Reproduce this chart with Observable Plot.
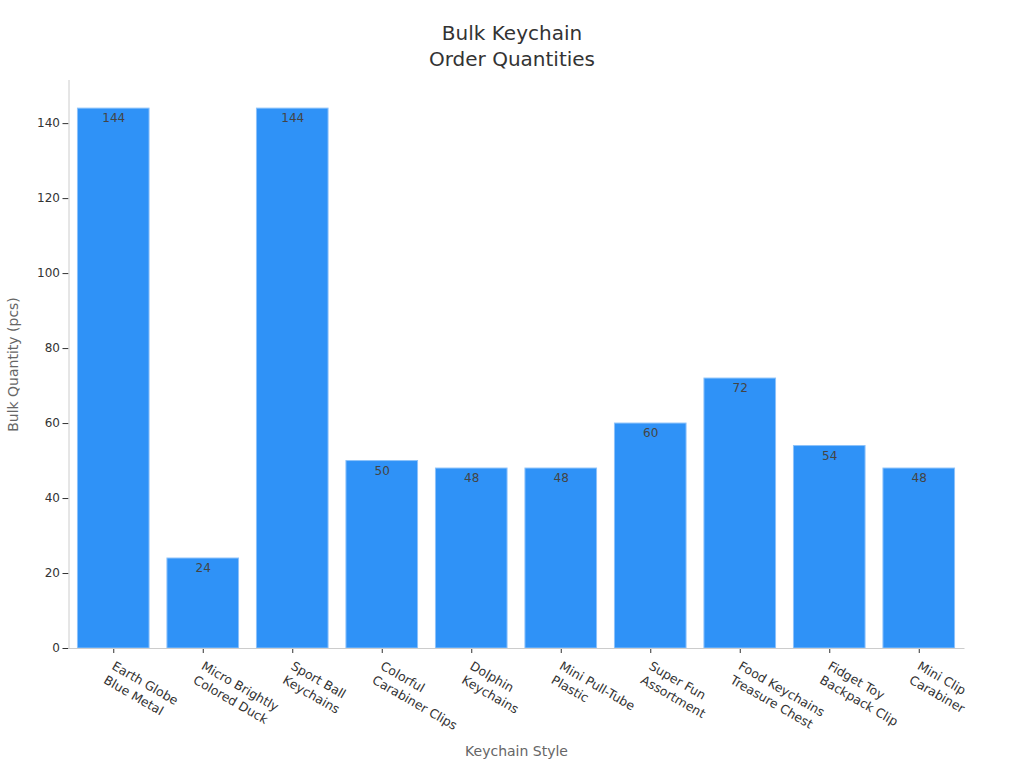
<!DOCTYPE html>
<html>
<head>
<meta charset="utf-8">
<script src="https://cdn.jsdelivr.net/npm/d3@7"></script>
<script src="https://cdn.jsdelivr.net/npm/@observablehq/plot@0.6"></script>
<style>
  html, body { margin: 0; padding: 0; background: #fff; }
  body { width: 1024px; height: 768px; overflow: hidden; font-family: "DejaVu Sans", sans-serif; }
  #title { height: 70px; box-sizing: border-box; padding-top: 20px; text-align: center; font-size: 20px; line-height: 26px; color: #333; }
</style>
</head>
<body>
<div id="title">Bulk Keychain<br>Order Quantities</div>
<div id="chart"></div>
<script>
const categories = [
  "Earth Globe\nBlue Metal",
  "Micro Brightly\nColored Duck",
  "Sport Ball\nKeychains",
  "Colorful\nCarabiner Clips",
  "Dolphin\nKeychains",
  "Mini Pull-Tube\nPlastic",
  "Super Fun\nAssortment",
  "Food Keychains\nTreasure Chest",
  "Fidget Toy\nBackpack Clip",
  "Mini Clip\nCarabiner"
];
const quantities = [144, 24, 144, 50, 48, 48, 60, 72, 54, 48];
const yTicks = [0, 20, 40, 60, 80, 100, 120, 140];

const data = categories.map((c, i) => ({style: c, qty: quantities[i]}));

const chart = Plot.plot({
  width: 1024,
  height: 698,
  marginTop: 10,
  marginBottom: 120,
  marginLeft: 68.5,
  marginRight: 60.5,
  style: {fontFamily: "DejaVu Sans, sans-serif", fontSize: "12px", color: "#333", background: "#fff"},
  x: {domain: categories, paddingInner: 0.2, paddingOuter: 0.1, round: false},
  y: {domain: [0, 151.5]},
  marks: [
    Plot.barY(data, {x: "style", y: "qty", fill: "#2f92f7", stroke: "#8cc2fa", strokeWidth: 1}),
    Plot.text(data, {x: "style", y: "qty", text: d => String(d.qty), dy: 10, fill: "#444", fontSize: 12}),
    Plot.axisY({ticks: yTicks, tickSize: 6, tickPadding: 3, fontSize: 12, label: null, stroke: "#333"}),
    Plot.axisX({tickSize: 5, text: null, label: null, stroke: "#333"}),
    Plot.axisX({tickSize: 0, tickPadding: 10, tickRotate: 30, lineAnchor: "top", lineHeight: 1.3, dx: 3, fontSize: 12.5, label: null, fill: "#333"}),
    Plot.frame({anchor: "left", stroke: "#ccc"}),
    Plot.frame({anchor: "bottom", stroke: "#ccc"}),
    Plot.text(["Bulk Quantity (pcs)"], {frameAnchor: "left", textAnchor: "middle", dx: -55, rotate: -90, fill: "#666", fontSize: 14}),
    Plot.text(["Keychain Style"], {frameAnchor: "bottom", dy: 107, fill: "#666", fontSize: 14})
  ]
});
document.getElementById("chart").appendChild(chart);
</script>
</body>
</html>
